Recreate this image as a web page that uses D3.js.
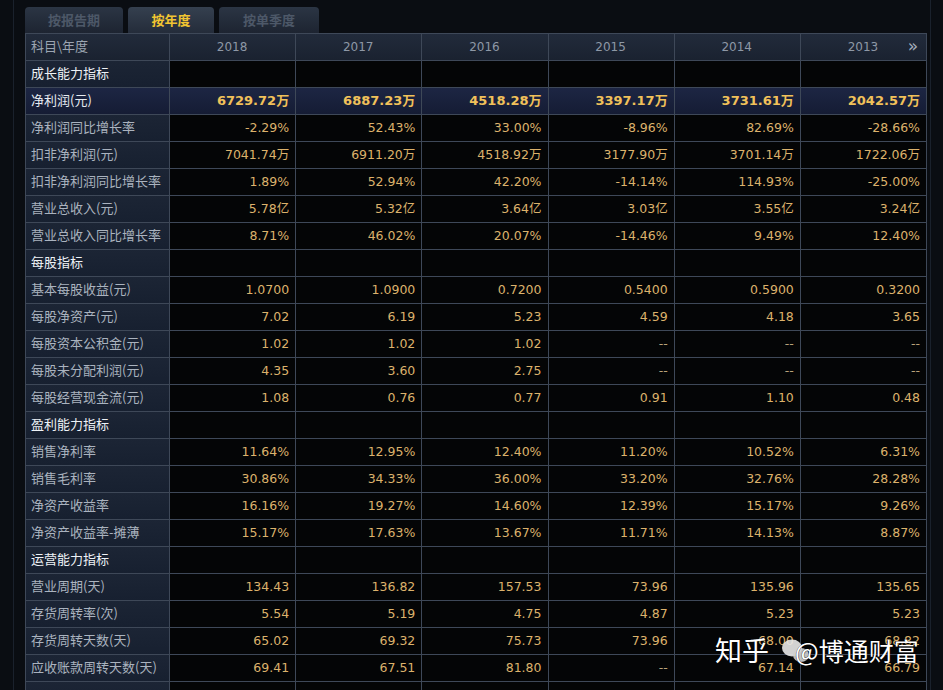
<!DOCTYPE html>
<html>
<head>
<meta charset="utf-8">
<script src="https://cdn.jsdelivr.net/npm/d3@7"></script>
<style>
  html, body { margin: 0; padding: 0; background: #0a0d12; }
  svg { display: block; }
</style>
</head>
<body>
<div id="svg-container"></div>
<script>
// data
const tabs = ["按报告期", "按年度", "按单季度"];
const years = ["2018", "2017", "2016", "2015", "2014", "2013"];
const labels = [
  "成长能力指标", "净利润(元)", "净利润同比增长率", "扣非净利润(元)", "扣非净利润同比增长率",
  "营业总收入(元)", "营业总收入同比增长率", "每股指标", "基本每股收益(元)", "每股净资产(元)",
  "每股资本公积金(元)", "每股未分配利润(元)", "每股经营现金流(元)", "盈利能力指标", "销售净利率",
  "销售毛利率", "净资产收益率", "净资产收益率-摊薄", "运营能力指标", "营业周期(天)",
  "存货周转率(次)", "存货周转天数(天)", "应收账款周转天数(天)", ""
];
const sections = ["成长能力指标", "每股指标", "盈利能力指标", "运营能力指标"];
const col2018 = [null, "6729.72万", "-2.29%", "7041.74万", "1.89%", "5.78亿", "8.71%", null, "1.0700", "7.02", "1.02", "4.35", "1.08", null, "11.64%", "30.86%", "16.16%", "15.17%", null, "134.43", "5.54", "65.02", "69.41", null];
const col2017 = [null, "6887.23万", "52.43%", "6911.20万", "52.94%", "5.32亿", "46.02%", null, "1.0900", "6.19", "1.02", "3.60", "0.76", null, "12.95%", "34.33%", "19.27%", "17.63%", null, "136.82", "5.19", "69.32", "67.51", null];
const col2016 = [null, "4518.28万", "33.00%", "4518.92万", "42.20%", "3.64亿", "20.07%", null, "0.7200", "5.23", "1.02", "2.75", "0.77", null, "12.40%", "36.00%", "14.60%", "13.67%", null, "157.53", "4.75", "75.73", "81.80", null];
const col2015 = [null, "3397.17万", "-8.96%", "3177.90万", "-14.14%", "3.03亿", "-14.46%", null, "0.5400", "4.59", "--", "--", "0.91", null, "11.20%", "33.20%", "12.39%", "11.71%", null, "73.96", "4.87", "73.96", "--", null];
const col2014 = [null, "3731.61万", "82.69%", "3701.14万", "114.93%", "3.55亿", "9.49%", null, "0.5900", "4.18", "--", "--", "1.10", null, "10.52%", "32.76%", "15.17%", "14.13%", null, "135.96", "5.23", "68.00", "67.14", null];
const col2013 = [null, "2042.57万", "-28.66%", "1722.06万", "-25.00%", "3.24亿", "12.40%", null, "0.3200", "3.65", "--", "--", "0.48", null, "6.31%", "28.28%", "9.26%", "8.87%", null, "135.65", "5.23", "68.82", "66.79", null];
const columns = [col2018, col2017, col2016, col2015, col2014, col2013];
const highlightRow = "净利润(元)";

////////////////////////////////////////////////////////////////////
// svg
const width = 943;
const height = 690;
const svg = d3.select("#svg-container").append("svg")
  .attr("width", width).attr("height", height);

const table = { left: 25, labelRight: 169, right: 926, headTop: 33, bodyTop: 60, rowH: 27 };

// scales
const xScale = d3.scaleBand().domain(years).range([table.labelRight, table.right]);
const yScale = d3.scaleBand().domain(d3.range(labels.length))
  .range([table.bodyTop, table.bodyTop + labels.length * table.rowH]);
const tabScale = d3.scaleOrdinal().domain(tabs).range([[25, 98], [128, 86], [219, 100]]);

const defs = svg.append("defs");
const grad = (id, c1, c2) => {
  const g = defs.append("linearGradient").attr("id", id).attr("x1", 0).attr("x2", 0).attr("y1", 0).attr("y2", 1);
  g.append("stop").attr("offset", "0%").attr("stop-color", c1);
  g.append("stop").attr("offset", "100%").attr("stop-color", c2);
};
grad("tab", "#2b3544", "#1d2431");
grad("tabOn", "#35404f", "#242c3a");
grad("head", "#222b3b", "#1a2230");
grad("hl", "#1d2644", "#151c34");
grad("lab", "#1c2535", "#172030");

// page frame
svg.append("rect").attr("width", width).attr("height", height).attr("fill", "#0a0d12");
svg.append("line").attr("x1", 13.5).attr("x2", 13.5).attr("y1", 0).attr("y2", height).attr("stroke", "#1a212c");
svg.append("line").attr("x1", 930.5).attr("x2", 930.5).attr("y1", 0).attr("y2", height).attr("stroke", "#1a212c");

// tabs
const tabG = svg.selectAll(".tab").data(tabs).join("g").attr("class", "tab");
tabG.append("path")
  .attr("d", (d) => {
    const [x, w] = tabScale(d);
    const y0 = 7, y1 = 33, r = 4;
    return `M${x},${y1} L${x},${y0 + r} Q${x},${y0} ${x + r},${y0} L${x + w - r},${y0} Q${x + w},${y0} ${x + w},${y0 + r} L${x + w},${y1} Z`;
  })
  .attr("fill", (d) => (d === "按年度" ? "url(#tabOn)" : "url(#tab)"));
tabG.append("text")
  .attr("x", (d) => tabScale(d)[0] + tabScale(d)[1] / 2)
  .attr("y", 25)
  .attr("text-anchor", "middle")
  .attr("font-family", "'Noto Sans CJK SC', sans-serif")
  .attr("font-size", 13)
  .attr("font-weight", "bold")
  .attr("fill", (d) => (d === "按年度" ? "#f2c531" : "#4d5868"))
  .text((d) => d);

// header row
svg.append("rect").attr("x", table.left).attr("y", table.headTop)
  .attr("width", table.right - table.left).attr("height", table.bodyTop - table.headTop)
  .attr("fill", "url(#head)");

const cellFont = "Tahoma, 'DejaVu Sans', 'Noto Sans CJK SC', sans-serif";
const cjkFont = "'Noto Sans CJK SC', sans-serif";

svg.append("text").attr("x", table.left + 6).attr("y", 51)
  .attr("font-family", cjkFont).attr("font-size", 13).attr("fill", "#9ca5b2")
  .text("科目\\年度");
svg.selectAll(".year").data(years).join("text").attr("class", "year")
  .attr("x", (d) => xScale(d) + xScale.bandwidth() / 2)
  .attr("y", 51).attr("text-anchor", "middle")
  .attr("font-family", cellFont).attr("font-size", 12).attr("fill", "#8e98a6")
  .text((d) => d);
svg.append("text").attr("x", 913).attr("y", 52).attr("text-anchor", "middle")
  .attr("font-family", cellFont).attr("font-size", 17).attr("fill", "#a3adbb")
  .text("»");

// label column + data backgrounds
const rowsG = svg.selectAll(".row").data(labels).join("g").attr("class", "row")
  .attr("transform", (d, i) => `translate(0,${yScale(i)})`);
rowsG.append("rect").attr("x", table.left).attr("width", table.labelRight - table.left)
  .attr("height", table.rowH)
  .attr("fill", (d) => (d === highlightRow ? "url(#hl)" : "url(#lab)"));
rowsG.append("rect").attr("x", table.labelRight).attr("width", table.right - table.labelRight)
  .attr("height", table.rowH)
  .attr("fill", (d) => (d === highlightRow ? "url(#hl)" : "#040506"));

rowsG.append("text")
  .attr("x", table.left + 6).attr("y", 18)
  .attr("font-family", cjkFont).attr("font-size", 13)
  .attr("fill", (d) => (sections.includes(d) ? "#eef2f6" : d === highlightRow ? "#e6ebf1" : "#aab3bf"))
  .text((d) => d);

// values
years.forEach((yr, c) => {
  svg.selectAll(`.v${yr}`).data(columns[c]).join("text").attr("class", `v${yr}`)
    .attr("x", xScale(yr) + xScale.bandwidth() - 6)
    .attr("y", (d, i) => yScale(i) + 18)
    .attr("text-anchor", "end")
    .attr("font-family", cellFont)
    .attr("font-size", (d, i) => (labels[i] === highlightRow ? 13 : 12.5))
    .attr("font-weight", (d, i) => (labels[i] === highlightRow ? "bold" : "normal"))
    .attr("fill", (d, i) => (labels[i] === highlightRow ? "#f1c15a" : d === "--" ? "#b9a27a" : "#dcb26c"))
    .text((d) => d || "");
});

// grid lines
const gridColor = "#3e4858";
const hLines = [table.headTop, ...yScale.domain().map((i) => yScale(i))];
svg.selectAll(".hline").data(hLines).join("line").attr("class", "hline")
  .attr("x1", table.left).attr("x2", table.right)
  .attr("y1", (d) => d + 0.5).attr("y2", (d) => d + 0.5)
  .attr("stroke", gridColor).attr("stroke-width", 1);
const vLines = [table.left, table.labelRight, ...years.slice(1).map((d) => xScale(d)), table.right];
svg.selectAll(".vline").data(vLines).join("line").attr("class", "vline")
  .attr("x1", (d) => Math.round(d) + 0.5).attr("x2", (d) => Math.round(d) + 0.5)
  .attr("y1", table.headTop).attr("y2", height)
  .attr("stroke", gridColor).attr("stroke-width", 1);

// watermark
const wm = svg.append("g").attr("class", "watermark");
wm.append("text").attr("x", 715).attr("y", 661)
  .attr("font-family", cjkFont).attr("font-size", 27).attr("fill", "#ffffff")
  .attr("stroke", "#000").attr("stroke-width", 0.6).attr("paint-order", "stroke")
  .text("知乎");
wm.append("ellipse").attr("cx", 792).attr("cy", 648).attr("rx", 10).attr("ry", 8.5)
  .attr("fill", "#e9e9e9").attr("opacity", 0.9);
wm.append("ellipse").attr("cx", 801).attr("cy", 655).attr("rx", 8).attr("ry", 7)
  .attr("fill", "#cfcfcf").attr("opacity", 0.9);
wm.append("text").attr("x", 795).attr("y", 661)
  .attr("font-family", cjkFont).attr("font-size", 25).attr("fill", "#ffffff")
  .attr("stroke", "#000").attr("stroke-width", 0.6).attr("paint-order", "stroke")
  .text("@博通财富");
</script>
</body>
</html>
